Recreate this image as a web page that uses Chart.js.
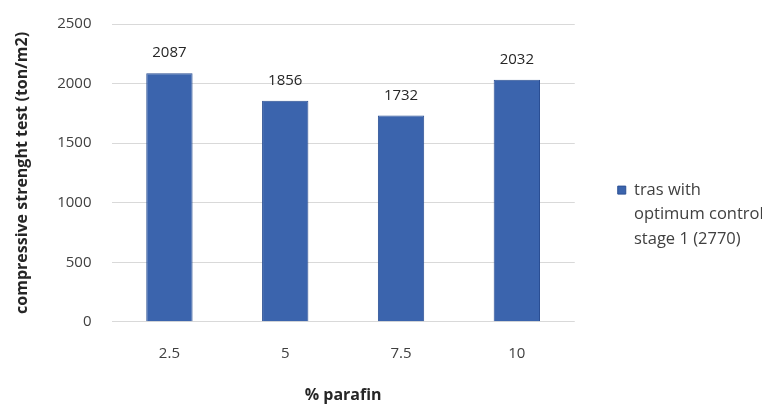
<!DOCTYPE html>
<html lang="en">
<head>
    <meta charset="utf-8" />
    <title>Compressive strength vs parafin</title>
    <script src="https://cdn.jsdelivr.net/npm/chart.js@4.4.1/dist/chart.umd.min.js"></script>
    <style>
        html, body { margin: 0; padding: 0; background: #fff; }
        #wrap { width: 764px; height: 405px; }
    </style>
</head>
<body>
    <div id="wrap"><canvas id="myChart" width="764" height="405"></canvas></div>

    <script>
        //Chart data.
        var categories = ['2.5', '5', '7.5', '10'];
        var strengthValues = [2087, 1856, 1732, 2032];
        var yTicks = [0, 500, 1000, 1500, 2000, 2500];
        var seriesName = ['tras with', 'optimum control', 'stage 1 (2770)'];

        var fontFamily = '"Open Sans", Lato, sans-serif';

        //Draw the value above each bar.
        var valueLabels = {
            id: 'valueLabels',
            afterDatasetsDraw: function (chart) {
                var ctx = chart.ctx;
                var meta = chart.getDatasetMeta(0);
                ctx.save();
                ctx.font = '15px ' + fontFamily;
                ctx.fillStyle = '#262626';
                ctx.textAlign = 'center';
                ctx.textBaseline = 'middle';
                meta.data.forEach(function (bar, i) {
                    ctx.fillText(strengthValues[i], bar.x, bar.y - 20);
                });
                ctx.restore();
            }
        };

        new Chart(document.getElementById('myChart'), {
            type: 'bar',
            data: {
                labels: categories,
                datasets: [{
                    label: seriesName,
                    data: strengthValues,
                    backgroundColor: '#3b64ad',
                    borderColor: '#2b4f93',
                    borderWidth: 1,
                    barPercentage: 0.8,
                    categoryPercentage: 0.5
                }]
            },
            options: {
                responsive: false,
                animation: false,
                layout: { padding: { top: 0, right: 2, bottom: 0, left: 13 } },
                plugins: {
                    legend: {
                        position: 'right',
                        //empty title only used to push the entry down a bit
                        title: { display: true, text: '', padding: 10, font: { size: 10, lineHeight: 1.2 } },
                        labels: {
                            boxWidth: 8,
                            boxHeight: 8,
                            padding: 43,
                            color: '#404040',
                            font: { family: fontFamily, size: 16.5, lineHeight: 1.48 }
                        }
                    },
                    tooltip: { enabled: false }
                },
                scales: {
                    x: {
                        grid: { display: false, drawTicks: false },
                        border: { display: false },
                        ticks: {
                            color: '#404040',
                            padding: 23,
                            font: { family: fontFamily, size: 15 }
                        },
                        title: {
                            display: true,
                            text: '% parafin',
                            color: '#262626',
                            padding: { top: 0, bottom: 0 },
                            font: { family: fontFamily, size: 16, weight: 'bold' }
                        }
                    },
                    y: {
                        min: 0,
                        max: 2500,
                        afterBuildTicks: function (axis) {
                            axis.ticks = yTicks.map(function (v) { return { value: v }; });
                        },
                        afterFit: function (axis) {
                            axis.paddingTop = 24;
                        },
                        grid: { color: '#d9d9d9', drawTicks: false },
                        border: { display: false },
                        ticks: {
                            color: '#404040',
                            padding: 20,
                            font: { family: fontFamily, size: 15 },
                            callback: function (value) { return String(value); }
                        },
                        title: {
                            display: true,
                            text: 'compressive strenght test (ton/m2)',
                            color: '#262626',
                            padding: { top: 0, bottom: 5 },
                            font: { family: fontFamily, size: 16, weight: 'bold' }
                        }
                    }
                }
            },
            plugins: [valueLabels]
        });
    </script>
</body>
</html>
